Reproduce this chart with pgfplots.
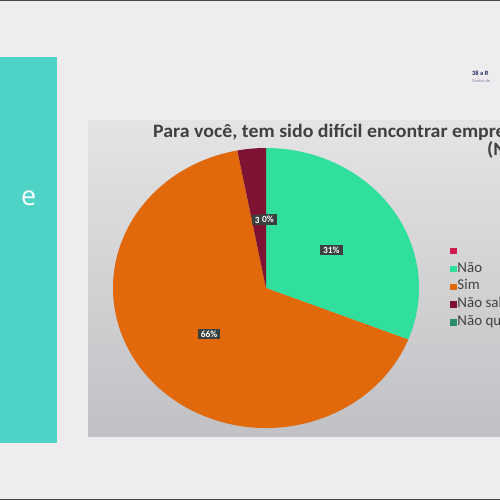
\documentclass[border=0pt]{standalone}
\usepackage{pgfplots}
\pgfplotsset{compat=1.18}
\usepackage{pgfplotstable}
\usetikzlibrary{calc}
\usepackage{fontspec}
\setmainfont{Carlito}
\newfontfamily\opensans{Open Sans}
\newfontfamily\titlefont[FakeStretch=1.05]{Carlito}
\definecolor{bg}{RGB}{238,236,238}
\definecolor{panel}{RGB}{80,211,199}
\definecolor{boxtop}{RGB}{228,228,229}
\definecolor{boxbot}{RGB}{193,192,196}
\definecolor{cnao}{RGB}{47,223,155}
\definecolor{csim}{RGB}{226,104,12}
\definecolor{csabe}{RGB}{125,18,50}
\definecolor{cquis}{RGB}{46,140,108}
\definecolor{cblank}{RGB}{206,28,78}
\definecolor{lbl}{RGB}{58,64,64}
\definecolor{txt}{RGB}{64,64,64}
\definecolor{navy}{RGB}{30,40,90}

\pgfplotstableread[col sep=comma]{
label,value
Não,31
Sim,66
Não sabe,3
Não quis,0
}\piedata

\begin{document}
\begin{tikzpicture}
\pgfplotstablegetelem{0}{value}\of\piedata\let\vA\pgfplotsretval
\pgfplotstablegetelem{1}{value}\of\piedata\let\vB\pgfplotsretval
\pgfplotstablegetelem{2}{value}\of\piedata\let\vC\pgfplotsretval
\pgfplotstablegetelem{3}{value}\of\piedata\let\vD\pgfplotsretval
\pgfmathsetmacro\aA{90}
\pgfmathsetmacro\aB{\aA-3.6*\vA}
\pgfmathsetmacro\aC{\aB-3.6*\vB}
\pgfmathsetmacro\aD{\aC-3.6*\vC}
\pgfmathsetmacro\aE{\aD-3.6*\vD}
\pgfmathsetmacro\mA{(\aA+\aB)/2}
\pgfmathsetmacro\mB{(\aB+\aC)/2}
\pgfmathsetmacro\mC{(\aC+\aD)/2}
\pgfmathsetmacro\mD{(\aD+\aE)/2}
\begin{axis}[
  x=1bp, y=1bp, xmin=0, xmax=500, ymin=0, ymax=500, y dir=reverse,
  hide axis, clip=false,
  legend image code/.code={\fill[#1] (0bp,-2.7bp) rectangle (5.4bp,2.7bp);},
  legend style={at={(axis cs:450,243.5)}, anchor=north west, draw=none, fill=none,
    font=\fontsize{15}{15}\selectfont, text=txt, inner sep=0pt, row sep=3.5bp,
    nodes={inner xsep=1.5bp, inner ysep=0pt, text height=10.5bp, text depth=3.8bp}},
  legend cell align=left,
]
% slide background
\fill[bg] (axis cs:0,0) rectangle (axis cs:500,500);
\fill[black!72] (axis cs:0,0) rectangle (axis cs:500,1.3);
\fill[black!72] (axis cs:0,498.7) rectangle (axis cs:500,500);
\fill[panel] (axis cs:0,57) rectangle (axis cs:57,443);
\node[anchor=base west, text=white, font=\opensans\fontsize{27}{27}\selectfont, inner sep=0pt] at (axis cs:21,205) {e};
\node[anchor=base west, text=navy, font=\bfseries\fontsize{6.5}{6.5}\selectfont, inner sep=0pt] at (axis cs:472,75) {38 a R};
\node[anchor=base west, text=navy!60, font=\fontsize{4.5}{4.5}\selectfont, inner sep=0pt] at (axis cs:472,82) {Centro de};
% chart box
\shade[top color=boxtop, bottom color=boxbot] (axis cs:88,120) rectangle (axis cs:500,436);
\node[anchor=base west, text=txt, font=\titlefont\bfseries\fontsize{19}{19}\selectfont, inner sep=0pt] at (axis cs:153,137) {Para você, tem sido difícil encontrar emprego?};
\node[anchor=base west, text=txt, font=\titlefont\bfseries\fontsize{19}{19}\selectfont, inner sep=0pt] at (axis cs:487,155) {(N};
% pie slices
\fill[cnao] (axis cs:266,288) -- ++(\aA:153bp and 140bp) arc[start angle=\aA, end angle=\aB, x radius=153bp, y radius=140bp] -- cycle;
\fill[csim] (axis cs:266,288) -- ++(\aB:153bp and 140bp) arc[start angle=\aB, end angle=\aC, x radius=153bp, y radius=140bp] -- cycle;
\fill[csabe] (axis cs:266,288) -- ++(\aC:153bp and 140bp) arc[start angle=\aC, end angle=\aD, x radius=153bp, y radius=140bp] -- cycle;
% data labels
\tikzset{lab/.style={fill=lbl, text=white, font=\bfseries\fontsize{9.5}{9.5}\selectfont, inner xsep=3bp, inner ysep=2bp}}
\node[lab] at ($(axis cs:268,289.5)+(\mA:76.5bp and 70bp)$) {31\%};
\node[lab] at ($(axis cs:268,289.5)+(\mB:76.5bp and 70bp)$) {66\%};
\node[lab] at ($(axis cs:268,289.5)+(\mC:76.5bp and 70bp)$) {3\%};
\node[lab] at ($(axis cs:268,289.5)+(\mD:76.5bp and 70bp)$) {0\%};
% legend
\addlegendimage{cblank}\addlegendentry{}
\addlegendimage{cnao}\addlegendentry{Não}
\addlegendimage{csim}\addlegendentry{Sim}
\addlegendimage{csabe}\addlegendentry{Não sabe}
\addlegendimage{cquis}\addlegendentry{Não quis responder}
\end{axis}
\pgfresetboundingbox
\useasboundingbox (0,0) rectangle (500bp,500bp);
\end{tikzpicture}
\end{document}
